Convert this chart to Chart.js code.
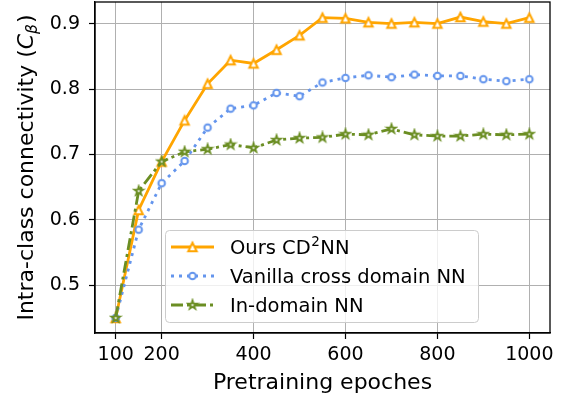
<!DOCTYPE html>
<html>
<head>
<meta charset="utf-8">
<script src="https://cdn.jsdelivr.net/npm/chart.js@4"></script>
<style>
html,body{margin:0;padding:0;background:#fff;}
canvas{display:block;}
</style>
</head>
<body>
<canvas id="c" width="564" height="401"></canvas>
<script>
// ---- data ----
const epochs = [100,150,200,250,300,350,400,450,500,550,600,650,700,750,800,850,900,950,1000];
const oursCD2NN = [0.450,0.615,0.689,0.752,0.808,0.844,0.839,0.860,0.882,0.909,0.908,0.902,0.900,0.902,0.900,0.910,0.903,0.900,0.909];
const vanillaCrossDomainNN = [0.450,0.585,0.656,0.690,0.741,0.770,0.775,0.794,0.789,0.810,0.817,0.821,0.818,0.822,0.820,0.820,0.815,0.812,0.815];
const inDomainNN = [0.450,0.644,0.689,0.704,0.708,0.715,0.710,0.722,0.725,0.726,0.731,0.730,0.739,0.730,0.728,0.728,0.731,0.730,0.731];
const xTickValues = [100,200,400,600,800,1000];
const yTickValues = [0.5,0.6,0.7,0.8,0.9];
const seriesNames = ['Ours CD2NN','Vanilla cross domain NN','In-domain NN'];
const xTitle = 'Pretraining epoches';

const FONT = '"DejaVu Sans", "Liberation Sans", sans-serif';
const ORANGE = '#FFA500', BLUE = '#6495ED', GREEN = '#6B8E23';
const LW = 2.8;

function markerCanvas(shape, color){
  const c = document.createElement('canvas');
  c.width = 14; c.height = 14;
  const g = c.getContext('2d');
  const cx = 7, cy = 7;
  g.fillStyle = '#fff'; g.strokeStyle = color; g.lineJoin = 'miter';
  g.beginPath();
  if (shape === 'triangle'){
    const h = 4.2;
    g.moveTo(cx, cy - h); g.lineTo(cx - h, cy + h); g.lineTo(cx + h, cy + h); g.closePath();
    g.lineWidth = 2;
  } else if (shape === 'circle'){
    g.arc(cx, cy, 3.3, 0, Math.PI*2);
    g.lineWidth = 2;
  } else {
    const R = 4.6, r = R*0.381966;
    for (let i=0;i<10;i++){
      const rad = (i%2===0)?R:r;
      const a = -Math.PI/2 + i*Math.PI/5;
      const px = cx + rad*Math.cos(a), py = cy + rad*Math.sin(a);
      if (i===0) g.moveTo(px,py); else g.lineTo(px,py);
    }
    g.closePath();
    g.lineWidth = 1.8;
  }
  g.fill(); g.stroke();
  return c;
}
const triM = markerCanvas('triangle', ORANGE);
const cirM = markerCanvas('circle', BLUE);
const starM = markerCanvas('star', GREEN);

function pts(ys){ return epochs.map((x,i)=>({x:x, y:ys[i]})); }

const decor = {
  id: 'decor',
  afterDraw(chart){
    const ctx = chart.ctx, a = chart.chartArea;
    ctx.save();
    // frame
    ctx.strokeStyle = '#000'; ctx.lineWidth = 1.3;
    ctx.strokeRect(a.left, a.top, a.right - a.left, a.bottom - a.top);

    // legend
    const lx = 165.5, ly = 230.5, lw = 313, lh = 92, rr = 4;
    ctx.beginPath();
    ctx.moveTo(lx+rr, ly); ctx.lineTo(lx+lw-rr, ly); ctx.quadraticCurveTo(lx+lw, ly, lx+lw, ly+rr);
    ctx.lineTo(lx+lw, ly+lh-rr); ctx.quadraticCurveTo(lx+lw, ly+lh, lx+lw-rr, ly+lh);
    ctx.lineTo(lx+rr, ly+lh); ctx.quadraticCurveTo(lx, ly+lh, lx, ly+lh-rr);
    ctx.lineTo(lx, ly+rr); ctx.quadraticCurveTo(lx, ly, lx+rr, ly); ctx.closePath();
    ctx.fillStyle = 'rgba(255,255,255,0.8)'; ctx.fill();
    ctx.strokeStyle = '#cccccc'; ctx.lineWidth = 1; ctx.stroke();

    const rows = [
      {y:247, color:ORANGE, dash:[], m:triM},
      {y:276, color:BLUE, dash:[3,5], m:cirM},
      {y:305, color:GREEN, dash:[12,4,3,4], m:starM}
    ];
    rows.forEach(r=>{
      ctx.beginPath(); ctx.setLineDash(r.dash); ctx.lineWidth = LW; ctx.strokeStyle = r.color;
      ctx.moveTo(171, r.y); ctx.lineTo(214, r.y); ctx.stroke();
      ctx.setLineDash([]);
      ctx.drawImage(r.m, 192.5 - 7, r.y - 7);
    });
    ctx.fillStyle = '#000'; ctx.textBaseline = 'alphabetic'; ctx.textAlign = 'left';
    const lf = '19.5px ' + FONT, sf = '13.5px ' + FONT;
    // row 1 with superscript
    let tx = 230, by = 247 + 7;
    ctx.font = lf; ctx.fillText('Ours CD', tx, by); tx += ctx.measureText('Ours CD').width + 0.5;
    ctx.font = sf; ctx.fillText('2', tx, by - 8); tx += ctx.measureText('2').width + 0.5;
    ctx.font = lf; ctx.fillText('NN', tx, by);
    ctx.fillText(seriesNames[1], 230, 276 + 7);
    ctx.fillText(seriesNames[2], 230, 305 + 7);

    // x title
    ctx.font = '22px ' + FONT; ctx.textAlign = 'center';
    ctx.fillText(xTitle, (a.left + a.right)/2, 389);

    // y title: Intra-class connectivity (C_beta)
    ctx.translate(33, (a.top + a.bottom)/2);
    ctx.rotate(-Math.PI/2);
    ctx.textAlign = 'left';
    const p1 = 'Intra-class connectivity (';
    ctx.font = '22px ' + FONT; const w1 = ctx.measureText(p1).width; const wP = ctx.measureText(')').width;
    ctx.font = 'italic 22px ' + FONT; const wC = ctx.measureText('C').width;
    ctx.font = 'italic 15.5px ' + FONT; const wB = ctx.measureText('\u03B2').width;
    const total = w1 + wC + wB + wP + 1;
    let u = -total/2;
    ctx.font = '22px ' + FONT; ctx.fillText(p1, u, 0); u += w1;
    ctx.font = 'italic 22px ' + FONT; ctx.fillText('C', u, 0); u += wC;
    ctx.font = 'italic 15.5px ' + FONT; ctx.fillText('\u03B2', u, 4); u += wB + 1;
    ctx.font = '22px ' + FONT; ctx.fillText(')', u, 0);
    ctx.restore();
  }
};

new Chart(document.getElementById('c'), {
  type: 'line',
  data: {
    datasets: [
      {label: seriesNames[0], data: pts(oursCD2NN), borderColor: ORANGE, borderWidth: LW,
       pointStyle: triM, pointRadius: 5, order: 3, tension: 0, fill: false},
      {label: seriesNames[1], data: pts(vanillaCrossDomainNN), borderColor: BLUE, borderWidth: LW,
       borderDash: [3,5], pointStyle: cirM, pointRadius: 5, order: 2, tension: 0, fill: false},
      {label: seriesNames[2], data: pts(inDomainNN), borderColor: GREEN, borderWidth: LW,
       borderDash: [12,4,3,4], pointStyle: starM, pointRadius: 5, order: 1, tension: 0, fill: false}
    ]
  },
  options: {
    responsive: false,
    animation: false,
    devicePixelRatio: 1,
    layout: {autoPadding: false, padding: {left: 0, right: 14, top: 2, bottom: 0}},
    plugins: {legend: {display: false}, tooltip: {enabled: false}, title: {display: false}},
    scales: {
      x: {
        type: 'linear', min: 55, max: 1045,
        afterBuildTicks: s => { s.ticks = xTickValues.map(v => ({value: v})); },
        afterFit: s => { s.height = 68; s.paddingLeft = 0; s.paddingRight = 0; },
        ticks: {font: {family: FONT, size: 19}, color: '#000', padding: 5, maxRotation: 0, autoSkip: false,
                callback: v => String(v)},
        grid: {color: '#b0b0b0', lineWidth: 1, tickColor: '#000', tickLength: 6, tickWidth: 1.2},
        border: {color: '#000', width: 1.3}
      },
      y: {
        type: 'linear', min: 0.427, max: 0.933,
        afterBuildTicks: s => { s.ticks = yTickValues.map(v => ({value: v})); },
        afterFit: s => { s.width = 95; s.paddingTop = 0; s.paddingBottom = 0; },
        ticks: {font: {family: FONT, size: 19}, color: '#000', padding: 9, autoSkip: false,
                callback: v => v.toFixed(1)},
        grid: {color: '#b0b0b0', lineWidth: 1, tickColor: '#000', tickLength: 6, tickWidth: 1.2},
        border: {color: '#000', width: 1.3}
      }
    }
  },
  plugins: [decor]
});
</script>
</body>
</html>
